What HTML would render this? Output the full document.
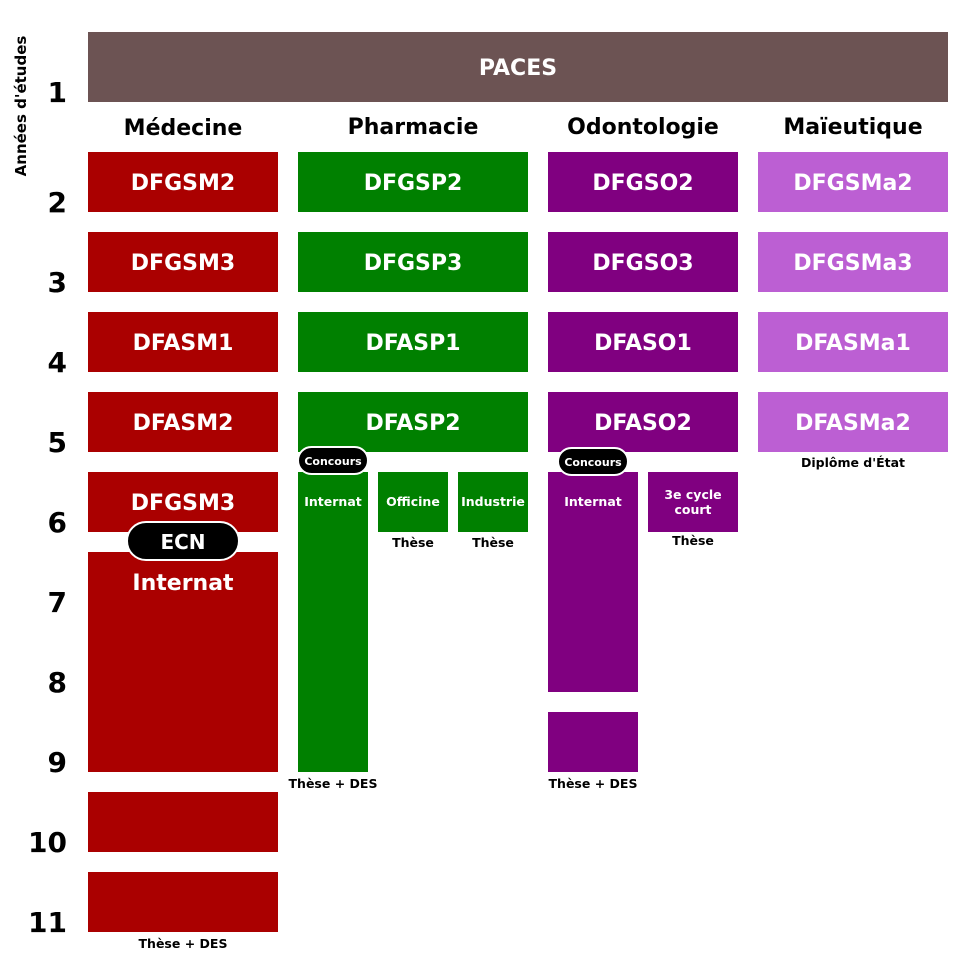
<!DOCTYPE html>
<html><head><meta charset="utf-8"><style>
html,body{margin:0;padding:0;background:#fff;}
svg{display:block;font-family:"DejaVu Sans","Liberation Sans",sans-serif;font-weight:bold;}
</style></head><body>
<svg width="980" height="980" viewBox="0 0 980 980" xmlns="http://www.w3.org/2000/svg">
<rect width="980" height="980" fill="#fff"/>
<text transform="translate(26,106) rotate(-90)" text-anchor="middle" font-size="15" fill="#000">Années d'études</text>
<g font-size="28" fill="#000" text-anchor="end">
<text x="67" y="102">1</text><text x="67" y="212">2</text><text x="67" y="292">3</text><text x="67" y="372">4</text><text x="67" y="452">5</text><text x="67" y="532">6</text><text x="67" y="612">7</text><text x="67" y="692">8</text><text x="67" y="772">9</text><text x="67" y="852">10</text><text x="67" y="932">11</text>
</g>
<rect x="88" y="32" width="860" height="70" fill="#6c5353"/>
<text x="518" y="75" text-anchor="middle" font-size="22" fill="#fff">PACES</text>
<g font-size="22" fill="#000" text-anchor="middle">
<text x="183" y="135">Médecine</text><text x="413" y="134">Pharmacie</text><text x="643" y="134">Odontologie</text><text x="853" y="134">Maïeutique</text>
</g>
<g fill="#aa0000">
<rect x="88" y="152" width="190" height="60"/><rect x="88" y="232" width="190" height="60"/><rect x="88" y="312" width="190" height="60"/><rect x="88" y="392" width="190" height="60"/><rect x="88" y="472" width="190" height="60"/><rect x="88" y="552" width="190" height="220"/><rect x="88" y="792" width="190" height="60"/><rect x="88" y="872" width="190" height="60"/>
</g>
<g fill="#008000">
<rect x="298" y="152" width="230" height="60"/><rect x="298" y="232" width="230" height="60"/><rect x="298" y="312" width="230" height="60"/><rect x="298" y="392" width="230" height="60"/><rect x="298" y="472" width="70" height="300"/><rect x="378" y="472" width="70" height="60"/><rect x="458" y="472" width="70" height="60"/>
</g>
<g fill="#800080">
<rect x="548" y="152" width="190" height="60"/><rect x="548" y="232" width="190" height="60"/><rect x="548" y="312" width="190" height="60"/><rect x="548" y="392" width="190" height="60"/><rect x="548" y="472" width="90" height="220"/><rect x="548" y="712" width="90" height="60"/><rect x="648" y="472" width="90" height="60"/>
</g>
<g fill="#bc5fd3">
<rect x="758" y="152" width="190" height="60"/><rect x="758" y="232" width="190" height="60"/><rect x="758" y="312" width="190" height="60"/><rect x="758" y="392" width="190" height="60"/>
</g>
<g font-size="22" fill="#fff" text-anchor="middle">
<text x="183" y="190">DFGSM2</text><text x="183" y="270">DFGSM3</text><text x="183" y="350">DFASM1</text><text x="183" y="430">DFASM2</text><text x="183" y="510">DFGSM3</text><text x="183" y="590">Internat</text>
<text x="413" y="190">DFGSP2</text><text x="413" y="270">DFGSP3</text><text x="413" y="350">DFASP1</text><text x="413" y="430">DFASP2</text>
<text x="643" y="190">DFGSO2</text><text x="643" y="270">DFGSO3</text><text x="643" y="350">DFASO1</text><text x="643" y="430">DFASO2</text>
<text x="853" y="190">DFGSMa2</text><text x="853" y="270">DFGSMa3</text><text x="853" y="350">DFASMa1</text><text x="853" y="430">DFASMa2</text>
</g>
<g font-size="12.5" fill="#fff" text-anchor="middle">
<text x="333" y="506">Internat</text><text x="413" y="506">Officine</text><text x="493" y="506">Industrie</text>
<text x="593" y="506">Internat</text><text x="693" y="499">3e cycle</text><text x="693" y="514">court</text>
</g>
<rect x="127" y="522" width="112" height="38" rx="19" fill="#000" stroke="#fff" stroke-width="2"/>
<text x="183" y="549" text-anchor="middle" font-size="20" fill="#fff">ECN</text>
<rect x="298" y="447" width="70" height="27" rx="13.5" fill="#000" stroke="#fff" stroke-width="2"/>
<text x="333" y="465" text-anchor="middle" font-size="11" fill="#fff">Concours</text>
<rect x="558" y="448" width="70" height="27" rx="13.5" fill="#000" stroke="#fff" stroke-width="2"/>
<text x="593" y="466" text-anchor="middle" font-size="11" fill="#fff">Concours</text>
<g font-size="12.5" fill="#000" text-anchor="middle">
<text x="853" y="467">Diplôme d'État</text>
<text x="413" y="547">Thèse</text><text x="493" y="547">Thèse</text><text x="693" y="545">Thèse</text>
<text x="333" y="788">Thèse + DES</text><text x="593" y="788">Thèse + DES</text><text x="183" y="948">Thèse + DES</text>
</g>
</svg>
</body></html>
